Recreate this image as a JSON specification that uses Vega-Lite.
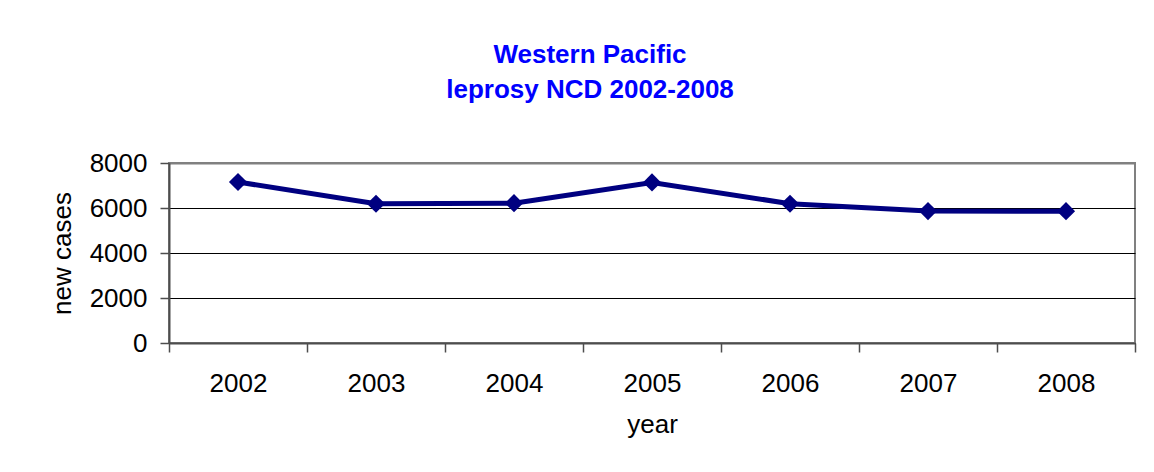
{
  "$schema": "https://vega.github.io/schema/vega-lite/v6.json",
  "autosize": "none",
  "width": 966,
  "height": 180,
  "padding": {"left": 169, "top": 163, "right": 19, "bottom": 129},
  "background": "white",
  "title": {
    "text": ["Western Pacific", "leprosy NCD 2002-2008"],
    "font": "Liberation Sans",
    "fontSize": 26,
    "fontWeight": "bold",
    "color": "#0000FF",
    "anchor": "middle",
    "frame": "group",
    "baseline": "bottom",
    "lineHeight": 35,
    "offset": 21,
    "dx": -62
  },
  "config": {
    "view": {"stroke": "#808080", "strokeWidth": 2},
    "font": "Liberation Sans"
  },
  "data": {
    "values": [
      {"year": "2002", "cases": 7154},
      {"year": "2003", "cases": 6190},
      {"year": "2004", "cases": 6216},
      {"year": "2005", "cases": 7137},
      {"year": "2006", "cases": 6190},
      {"year": "2007", "cases": 5863},
      {"year": "2008", "cases": 5859}
    ]
  },
  "layer": [
    {
      "mark": {"type": "line", "color": "#000080", "strokeWidth": 5},
      "encoding": {
        "x": {
          "field": "year",
          "type": "ordinal",
          "scale": {"type": "band", "paddingInner": 0, "paddingOuter": 0},
          "axis": {
            "title": "year",
            "labelAngle": 0,
            "labelFont": "Liberation Sans",
            "labelFontSize": 26,
            "labelColor": "black",
            "labelPadding": 18,
            "titleFont": "Liberation Sans",
            "titleFontSize": 26,
            "titleFontWeight": "normal",
            "titleColor": "black",
            "titlePadding": 15,
            "domainColor": "#4d4d4d",
            "domainWidth": 2,
            "tickColor": "#4d4d4d",
            "tickWidth": 1.5,
            "tickSize": 9,
            "tickBand": "extent",
            "grid": false
          }
        },
        "y": {
          "field": "cases",
          "type": "quantitative",
          "scale": {"domain": [0, 8000], "nice": false},
          "axis": {
            "title": "new cases",
            "values": [0, 2000, 4000, 6000, 8000],
            "format": "d",
            "labelFont": "Liberation Sans",
            "labelFontSize": 26,
            "labelColor": "black",
            "labelPadding": 13,
            "titleFont": "Liberation Sans",
            "titleFontSize": 26,
            "titleFontWeight": "normal",
            "titleColor": "black",
            "titlePadding": 14,
            "domainColor": "#4d4d4d",
            "domainWidth": 2,
            "tickColor": "#4d4d4d",
            "tickWidth": 1.5,
            "tickSize": 9,
            "grid": true,
            "gridColor": {"condition": {"test": "datum.value === 8000", "value": "#808080"}, "value": "black"},
            "gridWidth": {"condition": {"test": "datum.value === 8000", "value": 2}, "value": 1},
            "gridOpacity": 1
          }
        }
      }
    },
    {
      "mark": {"type": "point", "shape": "diamond", "filled": true, "color": "#000080", "size": 330, "opacity": 1},
      "encoding": {
        "x": {"field": "year", "type": "ordinal"},
        "y": {"field": "cases", "type": "quantitative"}
      }
    }
  ]
}
